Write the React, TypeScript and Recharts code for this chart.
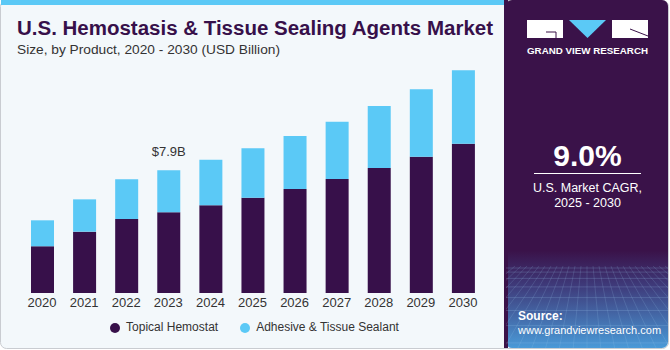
import { BarChart, Bar, XAxis, YAxis, Legend, LabelList } from 'recharts';

const years = ['2020', '2021', '2022', '2023', '2024', '2025', '2026', '2027', '2028', '2029', '2030'];
const topicalHemostat = [3.01, 3.95, 4.76, 5.2, 5.65, 6.14, 6.7, 7.34, 8.05, 8.78, 9.61];
const adhesiveSealant = [1.67, 2.08, 2.56, 2.7, 2.93, 3.18, 3.41, 3.69, 3.99, 4.34, 4.73];
const labelledYear = '2023';

const DARK = '#37104a';
const LIGHT = '#5bc9f6';
const FONT = '"Liberation Sans", Arial, sans-serif';

const data = years.map((year, i) => ({
  year,
  topical: topicalHemostat[i],
  adhesive: adhesiveSealant[i],
  total: topicalHemostat[i] + adhesiveSealant[i],
}));

const legendItems = [
  { name: 'Topical Hemostat', color: DARK },
  { name: 'Adhesive & Tissue Sealant', color: LIGHT },
];

function renderLegend() {
  return (
    <div style={{ display: 'flex', justifyContent: 'center', gap: 22, fontFamily: FONT, fontSize: 12, color: '#333', paddingLeft: 4, height: 15, lineHeight: '15px' }}>
      {legendItems.map(item => (
        <span key={item.name} style={{ display: 'flex', alignItems: 'center' }}>
          <span style={{ width: 10, height: 10, borderRadius: 5, background: item.color, marginRight: 6, display: 'inline-block' }} />
          {item.name}
        </span>
      ))}
    </div>
  );
}

function TotalLabel(props: any) {
  const { x, y, width, index } = props;
  const row = data[index];
  if (!row || row.year !== labelledYear) return null;
  return (
    <text x={x + width / 2} y={y - 14} textAnchor="middle" fontFamily={FONT} fontSize={13} fill="#333">
      {`$${row.total.toFixed(1)}B`}
    </text>
  );
}

// perspective mesh at the foot of the side panel
function Mesh() {
  const lines = [];
  for (let i = 0; i < 9; i++) {
    const y = 268 + i * i * 1.1 + i * 3;
    lines.push(<line key={'h' + i} x1={506} x2={668} y1={y} y2={y} stroke="#9fc8f0" strokeOpacity={0.3} strokeWidth={0.7} />);
  }
  for (let i = -12; i <= 24; i++) {
    const top = 587 + i * 6;
    const bottom = 587 + i * 14;
    lines.push(<line key={'v' + i} x1={top} x2={bottom} y1={266} y2={350} stroke="#9fc8f0" strokeOpacity={0.25} strokeWidth={0.7} />);
  }
  return <g clipPath="url(#panelClip)">{lines}</g>;
}

export default function App() {
  return (
    <div style={{ position: 'absolute', top: 0, left: 0, width: 670, height: 350, overflow: 'hidden' }}>
      <svg width={670} height={350} style={{ position: 'absolute', top: 0, left: 0 }}>
        <defs>
          <linearGradient id="panelGrad" x1="0" y1="0" x2="0" y2="1">
            <stop offset="0%" stopColor="#3a1249" />
            <stop offset="72%" stopColor="#3a1249" />
            <stop offset="82%" stopColor="#3e3a7a" />
            <stop offset="100%" stopColor="#4a9ad8" />
          </linearGradient>
          <clipPath id="panelClip">
            <rect x={506} y={0} width={162} height={348} rx={6} />
          </clipPath>
        </defs>
        <rect x={0.5} y={0.5} width={668} height={348} rx={6} fill="#f3f8fb" stroke="#c9ccd1" />
        <rect x={1} y={0} width={506} height={5} fill={LIGHT} />
        <rect x={506} y={0} width={162} height={348} fill="url(#panelGrad)" clipPath="url(#panelClip)" />
        <rect x={504} y={0} width={4} height={348} fill="#3a1249" />
        <Mesh />

        <text x={17} y={35} fontFamily={FONT} fontWeight={700} fontSize={20} fill={DARK} textLength={476} lengthAdjust="spacingAndGlyphs">
          U.S. Hemostasis &amp; Tissue Sealing Agents Market
        </text>
        <text x={17} y={54} fontFamily={FONT} fontSize={13} fill="#333" textLength={263} lengthAdjust="spacingAndGlyphs">
          Size, by Product, 2020 - 2030 (USD Billion)
        </text>

        {/* logo */}
        <rect x={527} y={20} width={36} height={18} fill="#fff" />
        <path d="M546 32 H556 V38" stroke="#3a1249" strokeWidth={1} fill="none" />
        <polygon points="569,20 606,20 587.5,38" fill={LIGHT} />
        <rect x={612} y={20} width={36} height={18} fill="#fff" />
        <line x1={630} y1={29} x2={648} y2={36} stroke="#3a1249" strokeWidth={1} />
        <text x={587.5} y={54} textAnchor="middle" fontFamily={FONT} fontWeight={700} fontSize={9} fill="#fff" textLength={121} lengthAdjust="spacingAndGlyphs">
          GRAND VIEW RESEARCH
        </text>

        <text x={587.5} y={166} textAnchor="middle" fontFamily={FONT} fontWeight={700} fontSize={30} fill="#fff">9.0%</text>
        <line x1={534} x2={641} y1={173.5} y2={173.5} stroke="#fff" strokeWidth={1} />
        <text x={587.5} y={192} textAnchor="middle" fontFamily={FONT} fontSize={12.5} fill="#fff">U.S. Market CAGR,</text>
        <text x={587.5} y={207} textAnchor="middle" fontFamily={FONT} fontSize={12.5} fill="#fff">2025 - 2030</text>

        <text x={518} y={320} fontFamily={FONT} fontWeight={700} fontSize={12} fill="#fff">Source:</text>
        <text x={518} y={334} fontFamily={FONT} fontSize={11} fill="#fff">www.grandviewresearch.com</text>
      </svg>

      <div style={{ position: 'absolute', top: 0, left: 0 }}>
        <BarChart width={505} height={350} data={data} margin={{ top: 44.5, right: 21, left: 21, bottom: 22 }} barSize={23}>
          <XAxis
            dataKey="year"
            height={20}
            axisLine={false}
            tickLine={false}
            tickSize={0}
            tickMargin={5}
            interval={0}
            tick={{ fontFamily: FONT, fontSize: 13, fill: '#333' }}
          />
          <YAxis hide domain={[0, 16]} />
          <Legend content={renderLegend} verticalAlign="bottom" wrapperStyle={{ bottom: 15, left: 0, width: 505 }} />
          <Bar dataKey="topical" stackId="a" fill={DARK} isAnimationActive={false} />
          <Bar dataKey="adhesive" stackId="a" fill={LIGHT} isAnimationActive={false}>
            <LabelList dataKey="total" content={TotalLabel} />
          </Bar>
        </BarChart>
      </div>
    </div>
  );
}
